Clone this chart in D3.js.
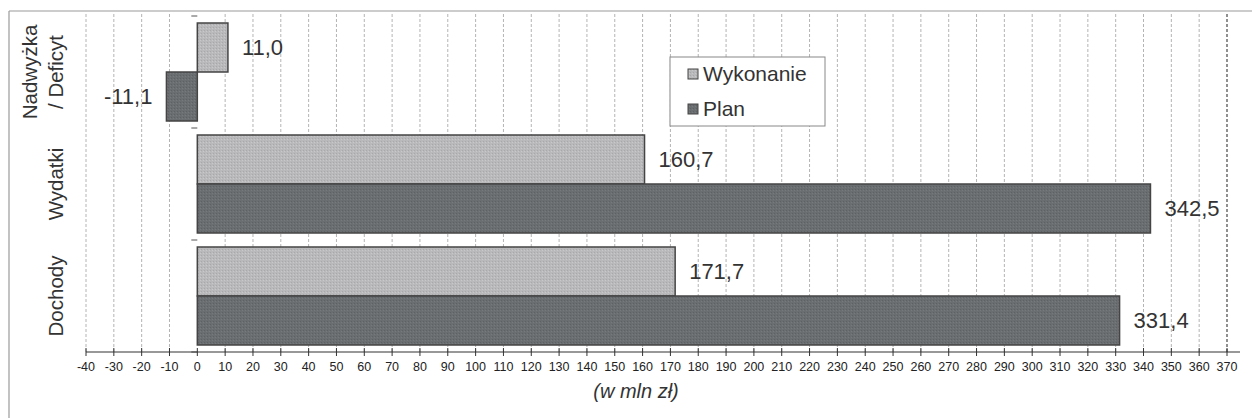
<!DOCTYPE html>
<html><head><meta charset="utf-8">
<script src="https://cdn.jsdelivr.net/npm/d3@7/dist/d3.min.js"></script>
<style>body{margin:0;background:#fff}svg{display:block;font-family:"Liberation Sans",Arial,sans-serif}</style>
</head><body><svg id="c" width="1252" height="418"></svg>
<script>
const categories = ["Nadwyżka / Deficyt", "Wydatki", "Dochody"];
const seriesNames = ["Wykonanie", "Plan"];
const wykonanie = [11.0, 160.7, 171.7];
const plan = [-11.1, 342.5, 331.4];
const xTicks = d3.range(-40, 371, 10);
const axisTitle = "(w mln zł)";

const colors = {Wykonanie: "#b9b9bb", Plan: "#6b6e71"};
const svg = d3.select("#c");
const x = d3.scaleLinear().domain([-40, 370]).range([86, 1227]);
const y = d3.scaleBand().domain(categories).range([16, 352]);
const inner = d3.scaleBand().domain(seriesNames).range([7, y.bandwidth() - 7]);
const fmt = v => d3.format(".1f")(v).replace(".", ",").replace("−", "-");

// pattern textures
const defs = svg.append("defs");
seriesNames.forEach((s, i) => {
  const p = defs.append("pattern").attr("id", "pat" + i).attr("width", 3).attr("height", 3).attr("patternUnits", "userSpaceOnUse");
  p.append("rect").attr("width", 3).attr("height", 3).attr("fill", colors[s]);
  p.append("rect").attr("x", 0).attr("y", 0).attr("width", 1).attr("height", 1).attr("fill", i ? "#5e6164" : "#a8a8aa");
  p.append("rect").attr("x", 2).attr("y", 1).attr("width", 1).attr("height", 1).attr("fill", i ? "#777a7d" : "#c8c8ca");
});

// frame
svg.append("line").attr("x1", 9).attr("x2", 1252).attr("y1", 11).attr("y2", 11).attr("stroke", "#9a9a9a").attr("stroke-width", 1.2);
svg.append("line").attr("x1", 9).attr("x2", 9).attr("y1", 11).attr("y2", 418).attr("stroke", "#9a9a9a").attr("stroke-width", 1.2);

// gridlines
svg.append("g").selectAll("line").data(xTicks.filter(t => t !== 0)).join("line")
  .attr("x1", d => x(d)).attr("x2", d => x(d)).attr("y1", 14).attr("y2", 352)
  .attr("stroke", d => d === 370 ? "#555" : "#b4b4b4")
  .attr("stroke-width", d => d === 370 ? 1.3 : 1)
  .attr("stroke-dasharray", "3,2");

// y ticks
const bounds = [16, ...categories.map(c => y(c) + y.bandwidth())];
svg.append("g").selectAll("line").data(bounds).join("line")
  .attr("x1", x(0) - 6).attr("x2", x(0)).attr("y1", d => d).attr("y2", d => d)
  .attr("stroke", "#555");

// bars
const data = [];
categories.forEach((c, i) => {
  data.push({c, s: "Wykonanie", v: wykonanie[i], pi: 0});
  data.push({c, s: "Plan", v: plan[i], pi: 1});
});
svg.append("g").selectAll("rect").data(data).join("rect")
  .attr("x", d => x(Math.min(0, d.v))).attr("width", d => Math.abs(x(d.v) - x(0)))
  .attr("y", d => y(d.c) + inner(d.s)).attr("height", inner.bandwidth())
  .attr("fill", d => `url(#pat${d.pi})`).attr("stroke", "#444").attr("stroke-width", 1.5);

// value labels
svg.append("g").selectAll("text").data(data).join("text")
  .attr("x", d => d.v >= 0 ? x(d.v) + 14 : x(d.v) - 14)
  .attr("y", d => y(d.c) + inner(d.s) + inner.bandwidth() / 2)
  .attr("dy", "0.35em")
  .attr("text-anchor", d => d.v >= 0 ? "start" : "end")
  .attr("font-size", 22).attr("fill", "#333")
  .text(d => fmt(d.v));

// x axis
const ax = svg.append("g").attr("transform", "translate(0,352)");
ax.append("line").attr("x1", 86).attr("x2", 1240).attr("stroke", "#333").attr("stroke-width", 1.2);
ax.selectAll("line.t").data(xTicks).join("line").attr("class", "t")
  .attr("x1", d => x(d)).attr("x2", d => x(d)).attr("y1", -4).attr("y2", 4).attr("stroke", "#333");
ax.selectAll("text").data(xTicks).join("text")
  .attr("x", d => x(d)).attr("y", 19).attr("text-anchor", "middle")
  .attr("font-size", 12.5).attr("fill", "#222").text(d => d);

svg.append("text").attr("x", 636).attr("y", 398).attr("text-anchor", "middle")
  .attr("font-size", 20).attr("font-style", "italic").attr("fill", "#333").text(axisTitle);

// category labels
categories.forEach(c => {
  const cy = y(c) + y.bandwidth() / 2;
  const parts = c.includes("/") ? ["Nadwyżka", "/ Deficyt"] : [c];
  const t = svg.append("text").attr("transform", `translate(0,${cy}) rotate(-90)`)
    .attr("text-anchor", "middle").attr("font-size", 20.5).attr("fill", "#333");
  parts.forEach((p, k) => {
    const bx = parts.length === 2 ? (k === 0 ? 37 : 63) : 63;
    t.append("tspan").attr("x", 0).attr("y", bx).text(p);
  });
});

// legend
const lg = svg.append("g");
lg.append("rect").attr("x", 670).attr("y", 57).attr("width", 155).attr("height", 69)
  .attr("fill", "#fff").attr("stroke", "#888");
seriesNames.forEach((s, i) => {
  const by = 81 + i * 35;
  lg.append("rect").attr("x", 688).attr("y", by - 12).attr("width", 10).attr("height", 10)
    .attr("fill", `url(#pat${i})`).attr("stroke", "#444");
  lg.append("text").attr("x", 703).attr("y", by).attr("font-size", 21).attr("fill", "#333").text(s);
});
</script></body></html>
